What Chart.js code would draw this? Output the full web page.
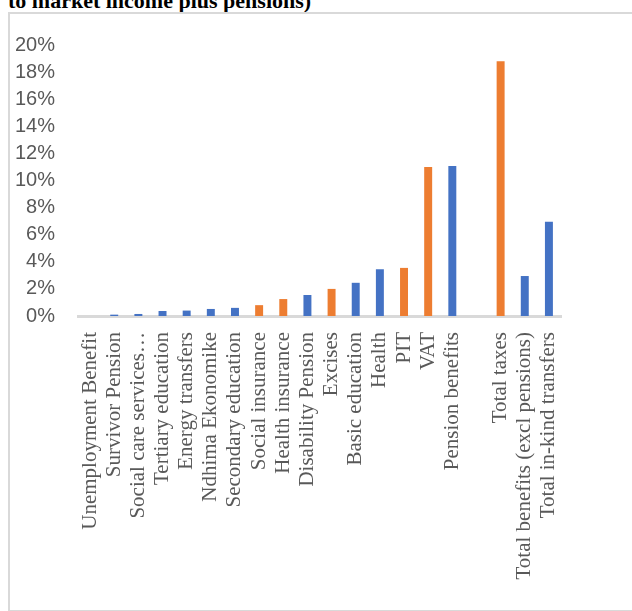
<!DOCTYPE html>
<html>
<head>
<meta charset="utf-8">
<script src="https://cdn.jsdelivr.net/npm/chart.js"></script>
<style>
  html, body { margin: 0; padding: 0; background: #fff; overflow: hidden; }
  #page { position: relative; width: 632px; height: 611px; }
  #title {
    position: absolute; left: 8px; top: -10px;
    font: bold 22px "Liberation Serif", "Times New Roman", serif;
    line-height: 22px; color: #000; white-space: nowrap;
  }
  #frame {
    position: absolute; left: 8px; top: 12px; width: 640px; height: 596px;
    border: 2px solid #d9d9d9;
  }
  #taxChart { position: absolute; left: 0; top: 0; }
</style>
</head>
<body>
<div id="page">
  <div id="title">to market income plus pensions)</div>
  <div id="frame"></div>
  <canvas id="taxChart" width="632" height="611"></canvas>
</div>
<script>
// categories along the x axis (one empty slot before the totals)
var categories = [
  "Unemployment Benefit", "Survivor Pension", "Social care services\u2026",
  "Tertiary education", "Energy transfers", "Ndhima Ekonomike",
  "Secondary education", "Social insurance", "Health insurance",
  "Disability Pension", "Excises", "Basic education", "Health", "PIT",
  "VAT", "Pension benefits", "", "Total taxes",
  "Total benefits (excl pensions)", "Total in-kind transfers"
];

// benefits (blue), in % of market income plus pensions
var benefitValues = [0, 0.1, 0.15, 0.37, 0.4, 0.52, 0.6, null, null, 1.55,
  null, 2.45, 3.45, null, null, 11.07, null, null, 2.95, 6.96];

// taxes (orange)
var taxValues = [null, null, null, null, null, null, null, 0.8, 1.25, null,
  2.0, null, null, 3.55, 11.0, null, null, 18.8, null, null];

var yTicks = [0, 2, 4, 6, 8, 10, 12, 14, 16, 18, 20];

var BLUE = "#4472C4";
var ORANGE = "#ED7D31";
var LABEL_GREY = "#595959";

function buildChart() {
  var ctx = document.getElementById("taxChart");

  new Chart(ctx, {
    type: "bar",
    data: {
      labels: categories,
      datasets: [{
        label: "Benefits",
        data: benefitValues,
        backgroundColor: BLUE
      }, {
        label: "Taxes",
        data: taxValues,
        backgroundColor: ORANGE
      }]
    },
    options: {
      responsive: false,
      animation: false,
      events: [],
      barPercentage: 0.33,
      categoryPercentage: 1,
      layout: {
        padding: { left: 10, top: 45, right: 71, bottom: 0 }
      },
      plugins: {
        legend: { display: false },
        tooltip: { enabled: false }
      },
      scales: {
        x: {
          stacked: true,
          grid: { display: false },
          border: { display: true, color: "#d9d9d9", width: 3 },
          ticks: {
            autoSkip: false,
            minRotation: 90,
            maxRotation: 90,
            padding: 8,
            color: LABEL_GREY,
            font: { family: "'Liberation Serif', 'Times New Roman', serif", size: 21 }
          },
          afterFit: function(scale) {
            scale.height = 295;
          }
        },
        y: {
          stacked: true,
          min: 0,
          max: 20,
          grid: { display: false },
          border: { display: false },
          afterBuildTicks: function(scale) {
            scale.ticks = yTicks.map(function(v) { return { value: v }; });
          },
          ticks: {
            autoSkip: false,
            padding: 15,
            color: LABEL_GREY,
            font: { family: "'Liberation Sans', Arial, sans-serif", size: 20 },
            callback: function(value) { return value + "%"; }
          },
          afterFit: function(scale) {
            scale.width = 68;
          }
        }
      }
    }
  });
}

buildChart();
</script>
</body>
</html>
